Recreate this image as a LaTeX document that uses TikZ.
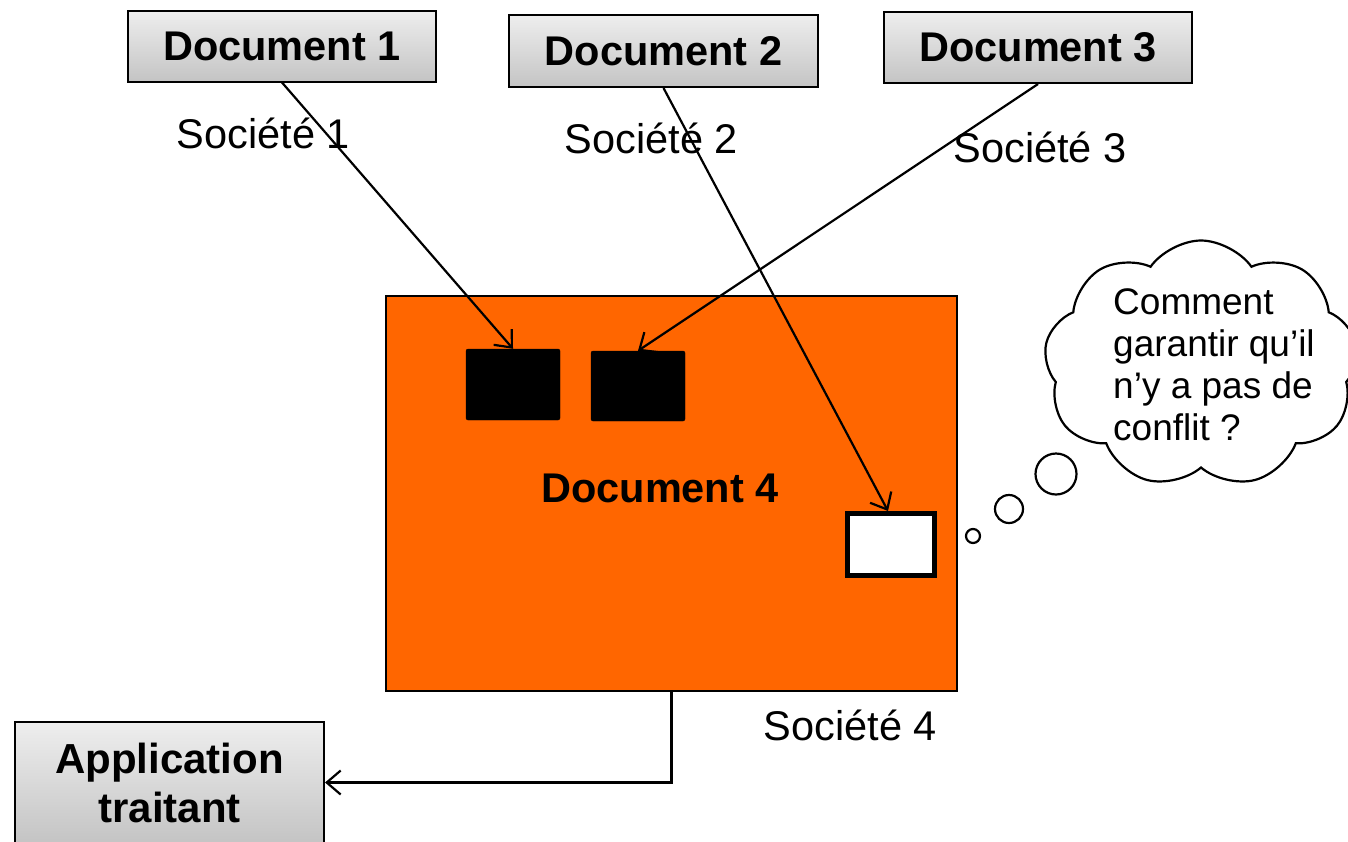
\documentclass[tikz,border=0pt]{standalone}
\usepackage{fontspec}
\setmainfont{Liberation Sans}
\usetikzlibrary{arrows.meta,shapes.symbols}
\definecolor{boxtop}{RGB}{238,238,238}
\definecolor{boxbot}{RGB}{196,196,196}
\definecolor{orangefill}{RGB}{255,102,0}
\tikzset{
  docbox/.style={draw=black, line width=2pt, top color=boxtop, bottom color=boxbot,
    minimum width=308, minimum height=71, inner sep=0pt,
    font=\fontsize{41.5}{49}\selectfont\bfseries, align=center},
  lbl/.style={anchor=base, inner sep=0pt, font=\fontsize{41.5}{49}\selectfont},
  conn/.style={line width=2.2pt, -{Straight Barb[length=14pt,width=24pt,line width=2.2pt]}},
  blackbox/.style={fill=black, draw=black, rounded corners=2pt, inner sep=0pt},
  bubble/.style={draw=black, line width=2.2pt, fill=white, circle, inner sep=0pt}
}
\begin{document}
\begin{tikzpicture}[x=1pt,y=-1pt]
\useasboundingbox (0,0) rectangle (1348,841);

% top documents
\node[docbox] (d1) at (282,46) {Document 1};
\node[docbox, minimum width=309, minimum height=72] (d2) at (663.5,51) {Document 2};
\node[docbox] (d3) at (1038,47.5) {Document 3};

% labels
\node[lbl] (s1) at (263.5,148) {Société 1};
\node[lbl] (s2) at (651.5,153) {Société 2};
\node[lbl] (s3) at (1040,162) {Société 3};
\node[lbl] (s4) at (850.5,740) {Société 4};

% main orange document
\node[draw=black, line width=2pt, fill=orangefill, minimum width=571, minimum height=395, inner sep=0pt] (d4) at (671.5,493.5) {};
\node[inner sep=0pt, font=\fontsize{41.5}{49}\selectfont\bfseries] (d4t) at (660,488) {Document 4};

\node[blackbox, minimum width=94, minimum height=71] (b1) at (513,384.5) {};
\node[blackbox, minimum width=94, minimum height=70] (b2) at (638,386) {};
\node[draw=black, line width=5pt, fill=white, minimum width=87, minimum height=62, inner sep=0pt] (w) at (891,544.5) {};

% application box
\node[docbox, minimum width=309, minimum height=121, font=\fontsize{42}{49}\selectfont\bfseries] (app) at (169.5,782.5) {Application\\traitant};

% connectors
\draw[conn] (d1.south) -- (b1.north);
\draw[conn] (d3.south) -- (b2.north);
\draw[conn] (d2.south) -- ([xshift=-3pt]w.north);
\draw[conn] (d4.south) |- (app.east);

% thought bubbles
\node[bubble, minimum size=14] (c1) at (973,536) {};
\node[bubble, minimum size=28] (c2) at (1009,509) {};
\node[bubble, minimum size=41] (c3) at (1056,474) {};
\node[cloud, draw=black, line width=2.2pt, fill=white, cloud puffs=9, cloud puff arc=110,
      minimum width=314, minimum height=247, inner sep=0pt] (cl) at (1201,364) {};
\node[anchor=north west, inner sep=0pt, align=left, font=\fontsize{37}{42}\selectfont] (clt) at (1113,288)
  {Comment\\garantir qu’il\\n’y a pas de\\conflit ?};
\end{tikzpicture}
\end{document}
